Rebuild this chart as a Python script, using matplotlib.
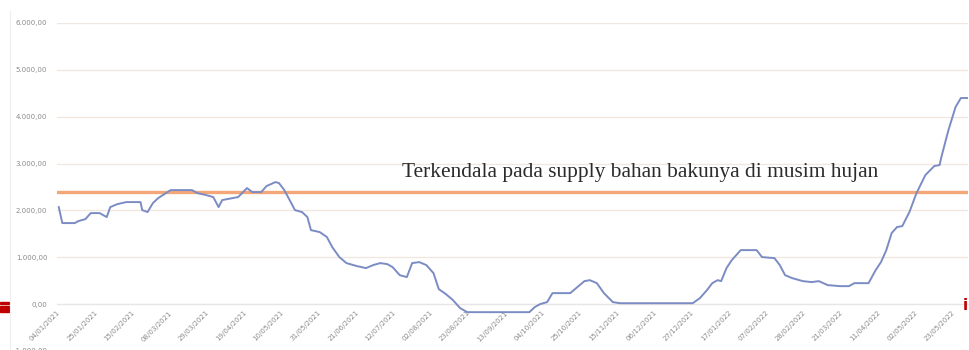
import datetime as dt
import matplotlib
matplotlib.use("Agg")
import matplotlib.pyplot as plt
from matplotlib.ticker import FuncFormatter, FixedLocator
from matplotlib.patches import Rectangle

# Price series: day offset from start date and price value
start_date = dt.date(2021, 1, 4)
days = [1, 3, 10, 12, 16, 19, 24, 28, 30, 34, 39, 47, 48, 51, 54, 57, 64, 76, 79, 84,
        88, 91, 93, 99, 102, 107, 110, 115, 118, 123, 125, 128, 131, 134, 138, 141, 143,
        148, 152, 155, 159, 163, 169, 174, 178, 182, 186, 189, 193, 197, 200, 204, 208,
        212, 215, 219, 223, 227, 231, 266, 269, 272, 276, 279, 289, 293, 297, 300, 304,
        308, 313, 317, 358, 362, 366, 369, 372, 374, 377, 380, 385, 394, 397, 404, 407,
        410, 414, 420, 425, 429, 434, 441, 446, 449, 457, 461, 464, 467, 470, 473, 476,
        480, 484, 489, 494, 497, 498, 502, 506, 509, 513]
prices = [2071, 1730, 1730, 1772, 1815, 1943, 1943, 1858, 2071, 2135, 2178, 2178, 2007,
          1965, 2157, 2264, 2434, 2434, 2370, 2328, 2285, 2071, 2221, 2264, 2285, 2477,
          2392, 2392, 2520, 2605, 2584, 2434, 2221, 2007, 1965, 1858, 1580, 1537, 1431,
          1217, 1004, 876, 811, 769, 833, 876, 854, 790, 619, 577, 876, 897, 833, 662,
          320, 214, 85, -85, -171, -171, -64, 0, 43, 235, 235, 363, 491, 512, 448, 235,
          43, 20, 20, 128, 299, 448, 512, 491, 769, 940, 1153, 1153, 1004, 982, 833, 619,
          555, 491, 470, 491, 406, 384, 384, 448, 448, 726, 897, 1153, 1516, 1644, 1666,
          1964, 2370, 2755, 2947, 2968, 3139, 3716, 4207, 4399, 4399]

average_price = 2390
tick_step_days = 21
n_ticks = 25
y_ticks = [-1000, 0, 1000, 2000, 3000, 4000, 5000, 6000]
note = "Terkendala pada supply bahan bakunya di musim hujan"

tick_days = [i * tick_step_days for i in range(n_ticks)]
tick_labels = [(start_date + dt.timedelta(days=d)).strftime("%d/%m/%Y") for d in tick_days]

fig = plt.figure(figsize=(9.69, 3.5), dpi=100)
ax = fig.add_axes([57 / 969, -1 / 350, 911 / 969, 328 / 350])

# axis line sits at zero; set before tick styling since this resets ticks
for side in ("top", "right", "left"):
    ax.spines[side].set_visible(False)
ax.spines["bottom"].set_position(("data", 0))
ax.spines["bottom"].set_color("#e6e6e6")
ax.spines["bottom"].set_linewidth(0.8)

ax.plot(days, prices, color="#7b8cc4", lw=1.4, zorder=3, solid_joinstyle="round")
ax.axhline(average_price, color="#f3a678", lw=2.4, zorder=2)

ax.set_xlim(0, 513)
ax.set_ylim(-1000, 6000)

def idr(v, pos):
    s = f"{abs(v):,.2f}".replace(",", "X").replace(".", ",").replace("X", ".")
    return ("-" if v < 0 else "") + s

ax.yaxis.set_major_locator(FixedLocator(y_ticks))
ax.yaxis.set_major_formatter(FuncFormatter(idr))
ax.grid(axis="y", color="#f1e7df", lw=0.9, zorder=0)
ax.tick_params(axis="y", length=0, pad=7, labelsize=5, labelcolor="#8a8a8a")

ax.set_xticks(tick_days)
ax.set_xticklabels(tick_labels)
ax.tick_params(axis="x", length=0, pad=4, labelsize=5, labelcolor="#8a8a8a")
plt.setp(ax.get_xticklabels(), rotation=45, ha="right", va="top",
         rotation_mode="anchor")

ax.text(194, 2800, note, family="Liberation Serif",
        fontsize=15.4, color="#2b2b2b", va="center", ha="left")

# chart frame border and page decorations
fig.add_artist(plt.Line2D([10 / 969, 10 / 969], [0, 0.97], color="#eeeeee", lw=0.8,
                          transform=fig.transFigure))
fig.add_artist(Rectangle((0, 1 - 304 / 350), 9 / 969, 2 / 350, color="#c00000",
                         transform=fig.transFigure))
fig.add_artist(Rectangle((0, 1 - 312 / 350), 9 / 969, 6 / 350, color="#c00000",
                         transform=fig.transFigure))
fig.text(963 / 969, 1 - 305 / 350, "i", color="#c00000", fontsize=11,
         fontweight="bold", va="center", ha="left")

fig.savefig("out.png", dpi=100, facecolor="white")
